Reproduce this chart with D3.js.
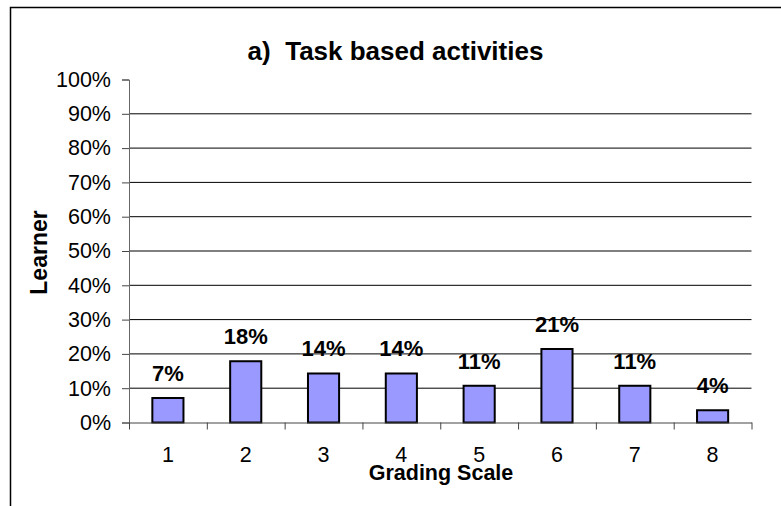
<!DOCTYPE html>
<html>
<head>
<meta charset="utf-8">
<script src="https://cdn.jsdelivr.net/npm/d3@7"></script>
<style>
  body { margin: 0; background: #fff; overflow: hidden; }
  svg { display: block; font-family: "Liberation Sans", Arial, sans-serif; }
</style>
</head>
<body>
<svg id="chart" width="781" height="506"></svg>
<script>
// Task based activities – share of learners per grading scale step
const categories = ["1", "2", "3", "4", "5", "6", "7", "8"];
const values = [0.0714, 0.1786, 0.1429, 0.1429, 0.1071, 0.2143, 0.1071, 0.0357];
const labels = ["7%", "18%", "14%", "14%", "11%", "21%", "11%", "4%"];
const yTicks = [0, 0.1, 0.2, 0.3, 0.4, 0.5, 0.6, 0.7, 0.8, 0.9, 1.0];

const plot = {left: 129, right: 751.5, top: 79.5, bottom: 422.5};

const svg = d3.select("#chart");

// outer chart border: only top and left edges are inside the picture
svg.append("path")
  .attr("d", "M10.5,506 V7.5 H781")
  .attr("fill", "none").attr("stroke", "#000").attr("stroke-width", 1.5);

// scales
const x = d3.scaleBand().domain(categories)
  .range([plot.left, plot.right])
  .paddingInner(0.6).paddingOuter(0.3);
const xb = d3.scaleLinear().domain([0, categories.length]).range([plot.left, plot.right]);
const y = d3.scaleLinear().domain([0, 1]).range([plot.bottom, plot.top]);

// gridlines (no line at 0% and 100%)
svg.append("g").selectAll("line")
  .data(yTicks.filter(d => d > 0 && d < 1))
  .join("line")
  .attr("x1", plot.left).attr("x2", plot.right)
  .attr("y1", d => y(d)).attr("y2", d => y(d))
  .attr("stroke", "#000").attr("stroke-width", 1);

// y axis
const yG = svg.append("g").attr("transform", `translate(${plot.left},0)`)
  .call(d3.axisLeft(y).tickValues(yTicks).tickFormat(d3.format(".0%")).tickSize(7).tickPadding(11));
yG.select(".domain").attr("stroke", "#666");
yG.selectAll(".tick line").attr("stroke", "#444");
yG.selectAll("text").attr("font-size", "21.5px").attr("fill", "#000")
  .attr("font-family", "Liberation Sans, Arial, sans-serif");

// bars
svg.append("g").selectAll("rect")
  .data(values)
  .join("rect")
  .attr("x", (d, i) => x(categories[i]))
  .attr("width", x.bandwidth())
  .attr("y", d => y(d))
  .attr("height", d => y(0) - y(d))
  .attr("fill", "#9999ff")
  .attr("stroke", "#000")
  .attr("stroke-width", 2);

// x axis: ticks at category boundaries, labels centered in band
const xG = svg.append("g").attr("transform", `translate(0,${plot.bottom})`)
  .call(d3.axisBottom(xb).tickValues(d3.range(categories.length + 1)).tickFormat("").tickSize(7).tickSizeOuter(0));
xG.select(".domain").attr("stroke", "#444");
xG.selectAll(".tick line").attr("stroke", "#444");

svg.append("g").selectAll("text")
  .data(categories)
  .join("text")
  .attr("x", d => x(d) + x.bandwidth() / 2)
  .attr("y", plot.bottom + 39)
  .attr("text-anchor", "middle")
  .attr("font-size", "21.5px")
  .text(d => d);

// value labels
svg.append("g").selectAll("text")
  .data(values)
  .join("text")
  .attr("x", (d, i) => x(categories[i]) + x.bandwidth() / 2)
  .attr("y", d => y(d) - 17)
  .attr("text-anchor", "middle")
  .attr("font-size", "22px")
  .attr("font-weight", "bold")
  .text((d, i) => labels[i]);

// title
svg.append("text")
  .attr("x", 395.5).attr("y", 60)
  .attr("text-anchor", "middle")
  .attr("font-size", "26px").attr("font-weight", "bold")
  .style("white-space", "pre")
  .text("a)  Task based activities");

// axis titles
svg.append("text")
  .attr("x", 441).attr("y", 480)
  .attr("text-anchor", "middle")
  .attr("font-size", "21.5px").attr("font-weight", "bold")
  .text("Grading Scale");

svg.append("text")
  .attr("transform", "translate(46.5,252.5) rotate(-90)")
  .attr("text-anchor", "middle")
  .attr("font-size", "23px").attr("font-weight", "bold")
  .text("Learner");
</script>
</body>
</html>
